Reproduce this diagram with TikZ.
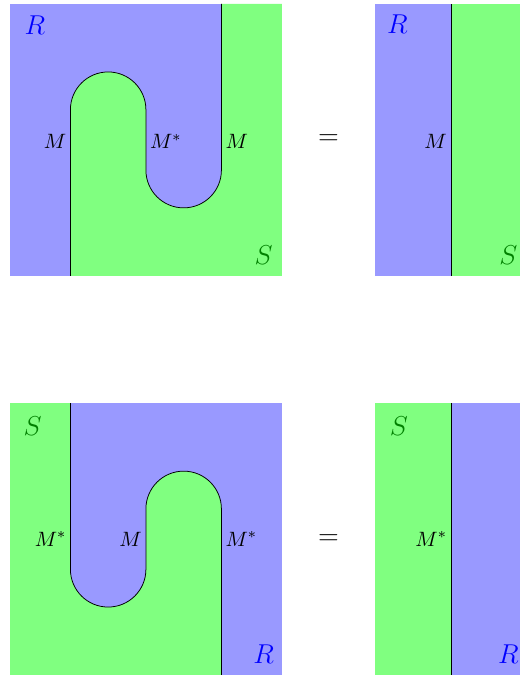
\documentclass[tikz,border=0pt]{standalone}
\begin{document}
\begin{tikzpicture}[x=1.4cm,y=1.4cm,
  rfill/.style={fill=blue!40},
  sfill/.style={fill=green!50},
  rlab/.style={text=blue,font=\fontsize{14}{16}\selectfont},
  slab/.style={text=green!50!black,font=\fontsize{14}{16}\selectfont},
  mlab/.style={inner sep=2pt,font=\fontsize{11}{13}\selectfont},
  eqlab/.style={font=\Large}]
\useasboundingbox (-0.1325,-5.287) rectangle (6.755,3.653);
% ---------- top left ----------
\fill[rfill] (0,0) rectangle (3.6,3.6);
\fill[sfill] (0.8,0) -- (0.8,2.2) arc[start angle=180,end angle=0,radius=0.5]
  -- (1.8,1.4) arc[start angle=180,end angle=360,radius=0.5]
  -- (2.8,3.6) -- (3.6,3.6) -- (3.6,0) -- cycle;
\coordinate (ta) at (0.8,0);
\coordinate (tb) at (2.8,3.6);
\draw (ta) -- (0.8,2.2) arc[start angle=180,end angle=0,radius=0.5]
  -- (1.8,1.4) arc[start angle=180,end angle=360,radius=0.5] -- (tb);
\node[rlab] (r1) at (0.33,3.32) {$R$};
\node[slab] (s1) at (3.36,0.27) {$S$};
\node[mlab,anchor=east] (m1) at (0.8,1.78) {$M$};
\node[mlab,anchor=west] (m2) at (1.8,1.78) {$M^*$};
\node[mlab,anchor=west] (m3) at (2.8,1.78) {$M$};
\node[eqlab] (eq1) at (4.22,1.8) {$=$};
% ---------- top right ----------
\fill[rfill] (4.84,0) rectangle (5.84,3.6);
\fill[sfill] (5.84,0) rectangle (6.755,3.6);
\coordinate (tc) at (5.84,0);
\coordinate (td) at (5.84,3.6);
\draw (tc) -- (td);
\node[rlab] (r2) at (5.13,3.33) {$R$};
\node[slab] (s2) at (6.6,0.27) {$S$};
\node[mlab,anchor=east] (m4) at (5.84,1.78) {$M$};
% ---------- bottom left ----------
\begin{scope}[yshift=-5.287*1.4cm]
\fill[sfill] (0,0) rectangle (3.6,3.6);
\fill[rfill] (0.8,3.6) -- (0.8,1.4) arc[start angle=180,end angle=360,radius=0.5]
  -- (1.8,2.2) arc[start angle=180,end angle=0,radius=0.5]
  -- (2.8,0) -- (3.6,0) -- (3.6,3.6) -- cycle;
\coordinate (ba) at (0.8,3.6);
\coordinate (bb) at (2.8,0);
\draw (ba) -- (0.8,1.4) arc[start angle=180,end angle=360,radius=0.5]
  -- (1.8,2.2) arc[start angle=180,end angle=0,radius=0.5] -- (bb);
\node[slab] (s3) at (0.3,3.3) {$S$};
\node[rlab] (r3) at (3.36,0.27) {$R$};
\node[mlab,anchor=east] (m5) at (0.8,1.8) {$M^*$};
\node[mlab,anchor=east] (m6) at (1.8,1.8) {$M$};
\node[mlab,anchor=west] (m7) at (2.8,1.8) {$M^*$};
\node[eqlab] (eq2) at (4.22,1.8) {$=$};
% ---------- bottom right ----------
\fill[sfill] (4.84,0) rectangle (5.84,3.6);
\fill[rfill] (5.84,0) rectangle (6.755,3.6);
\coordinate (bc) at (5.84,0);
\coordinate (bd) at (5.84,3.6);
\draw (bc) -- (bd);
\node[slab] (s4) at (5.15,3.3) {$S$};
\node[rlab] (r4) at (6.6,0.27) {$R$};
\node[mlab,anchor=east] (m8) at (5.84,1.8) {$M^*$};
\end{scope}
\end{tikzpicture}
\end{document}
